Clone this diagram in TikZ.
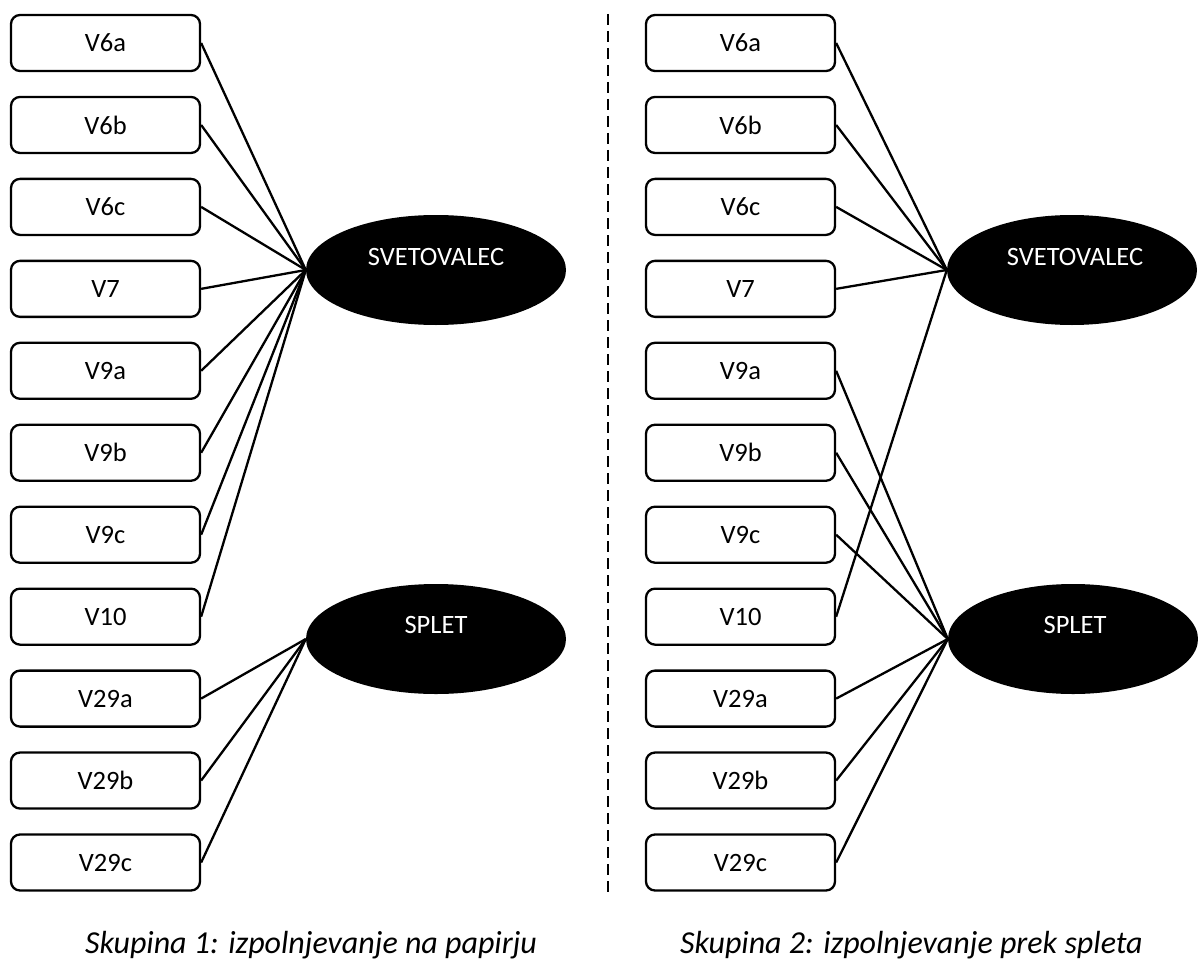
\documentclass[tikz,border=0pt]{standalone}
\usepackage{fontspec}
\setmainfont{Carlito}
\usetikzlibrary{shapes.geometric}
\begin{document}
\begin{tikzpicture}[x=1pt,y=-1pt,
  vbox/.style={draw,line width=2.3pt,rounded corners=9pt,minimum width=189pt,minimum height=56pt,inner sep=0pt,font=\fontsize{26.5}{31}\selectfont},
  blob/.style={ellipse,fill=black,draw=none,minimum width=260pt,minimum height=110pt,inner sep=0pt},
  blobtext/.style={text=white,inner sep=0pt,font=\fontsize{26.5}{31}\selectfont},
  conn/.style={line width=2.3pt},
  caption/.style={font=\fontsize{32}{38}\selectfont\itshape,inner sep=0pt,anchor=base west}]
\useasboundingbox (0,0) rectangle (1198,960);
\foreach \n/\t [count=\i from 0] in {la/V6a,lb/V6b,lc/V6c,ld/V7,le/V9a,lf/V9b,lg/V9c,lh/V10,li/V29a,lj/V29b,lk/V29c}
  \node[vbox] (\n) at (105.5,{43+81.95*\i}) {\t};
\foreach \n/\t [count=\i from 0] in {ra/V6a,rb/V6b,rc/V6c,rd/V7,re/V9a,rf/V9b,rg/V9c,rh/V10,ri/V29a,rj/V29b,rk/V29c}
  \node[vbox] (\n) at (740.5,{43+81.95*\i}) {\t};
\node[blob] (lsv) at (436,270) {};
\node[blobtext] (lsvt) at (436,257) {SVETOVALEC};
\node[blob] (lsp) at (436,639) {};
\node[blobtext] (lspt) at (436,625) {SPLET};
\node[blob,minimum width=250pt] (rsv) at (1072,270) {};
\node[blobtext] (rsvt) at (1075,257) {SVETOVALEC};
\node[blob,minimum width=250pt] (rsp) at (1073,639) {};
\node[blobtext] (rspt) at (1075,625) {SPLET};
\foreach \n in {la,lb,lc,ld,le,lf,lg,lh}
  \draw[conn] (\n.east) -- (lsv.west);
\foreach \n in {li,lj,lk}
  \draw[conn] (\n.east) -- (lsp.west);
\foreach \n in {ra,rb,rc,rd,rh}
  \draw[conn] (\n.east) -- (rsv.west);
\foreach \n in {re,rf,rg,ri,rj,rk}
  \draw[conn] (\n.east) -- (rsp.west);
\coordinate (dtop) at (608,14);
\coordinate (dbot) at (608,893);
\draw[line width=2.3pt,dash pattern=on 11pt off 6pt] (dtop) -- (dbot);
\node[caption] (cap1) at (85,953) {Skupina 1: izpolnjevanje na papirju};
\node[caption] (cap2) at (680,953) {Skupina 2: izpolnjevanje prek spleta};
\end{tikzpicture}
\end{document}
